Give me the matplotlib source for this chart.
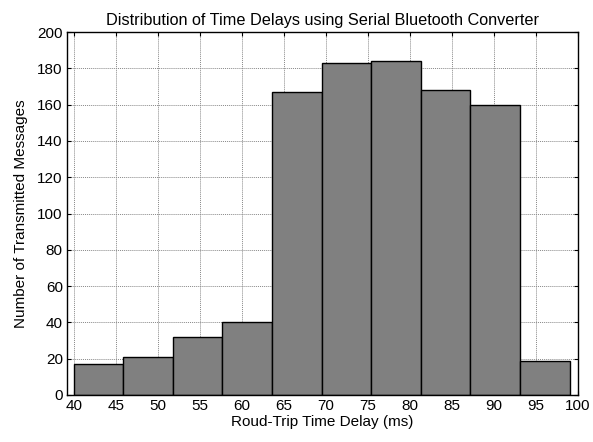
import matplotlib
matplotlib.use("Agg")
import matplotlib.pyplot as plt
import numpy as np

plt.rcParams['font.family'] = ['Liberation Sans', 'DejaVu Sans']

counts = [17, 21, 32, 40, 167, 183, 184, 168, 160, 19]
bin_start = 40.0
bin_end = 99.0
xticks = list(range(40, 101, 5))
yticks = list(range(0, 201, 20))

title = "Distribution of Time Delays using Serial Bluetooth Converter"
xlabel = "Roud-Trip Time Delay (ms)"
ylabel = "Number of Transmitted Messages"

edges = np.linspace(bin_start, bin_end, len(counts) + 1)
widths = np.diff(edges)

fig = plt.figure(figsize=(5.93, 4.42), dpi=100)
ax = fig.add_axes([67/593, 1-395/442, (578-67)/593, (395-32)/442])

ax.set_axisbelow(True)
ax.grid(True, color='#888888', linestyle=(0, (1, 1)), linewidth=0.7)
ax.bar(edges[:-1], counts, width=widths, align='edge', color='#808080',
       edgecolor='black', linewidth=1.0, zorder=2)

ax.set_xlim(39.2, 100)
ax.set_ylim(0, 200)
ax.set_xticks(xticks)
ax.set_yticks(yticks)
ax.tick_params(direction='in', top=True, right=True, length=3, width=0.8,
               labelsize=11, colors='black', pad=3)
for s in ax.spines.values():
    s.set_linewidth(1.0)
    s.set_color('black')

ax.set_title(title, fontsize=11.7, pad=5)
ax.set_xlabel(xlabel, fontsize=11, labelpad=1)
ax.set_ylabel(ylabel, fontsize=11, labelpad=7)

fig.savefig("out.png", dpi=100)
